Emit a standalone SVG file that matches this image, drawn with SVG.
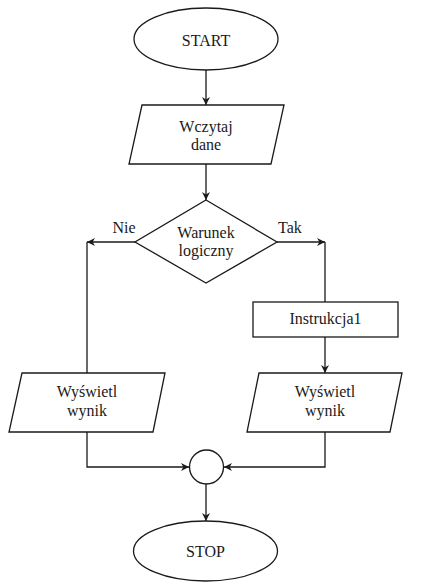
<svg xmlns="http://www.w3.org/2000/svg" width="426" height="586" viewBox="0 0 426 586" font-family="Liberation Serif, DejaVu Serif, serif">
<defs>
<style>
.s{fill:#fff;stroke:#1a1a1a;stroke-width:1.3}
.c{fill:none;stroke:#1a1a1a;stroke-width:1.3}
.t{font-family:'Liberation Serif','DejaVu Serif',serif;font-size:16px;fill:#1a1a1a;text-anchor:middle}
</style>
<marker id="ah" viewBox="0 0 10 10" refX="10" refY="5" markerWidth="8" markerHeight="8" markerUnits="userSpaceOnUse" orient="auto">
<path d="M0,0 L10,5 L0,10 L3,5 z" fill="#1a1a1a"/>
</marker>
</defs>
<rect width="426" height="586" fill="#fff"/>
<g id="connectors">
<path class="c" d="M206,70 V105" marker-end="url(#ah)"/>
<path class="c" d="M206,164 V200" marker-end="url(#ah)"/>
<path class="c" d="M135,242 H87" marker-end="url(#ah)"/>
<path class="c" d="M87,242 V373"/>
<path class="c" d="M277,242 H325" marker-end="url(#ah)"/>
<path class="c" d="M325,242 V302"/>
<path class="c" d="M325,337 V373" marker-end="url(#ah)"/>
<path class="c" d="M87,432 V467 H189" marker-end="url(#ah)"/>
<path class="c" d="M325,432 V467 H224" marker-end="url(#ah)"/>
<path class="c" d="M206,484 V521" marker-end="url(#ah)"/>
<text class="t" x="124" y="233">Nie</text>
<text class="t" x="290" y="233">Tak</text>
</g>
<g id="start">
<ellipse class="s" cx="206" cy="39" rx="72" ry="31"/>
<text class="t" x="206" y="46">START</text>
</g>
<g id="wczytaj">
<polygon class="s" points="142,105 284,105 271,164 129,164"/>
<text class="t" x="206" y="132">Wczytaj</text>
<text class="t" x="206" y="150">dane</text>
</g>
<g id="warunek">
<polygon class="s" points="206,200 277,242 206,283 135,242"/>
<text class="t" x="206" y="238">Warunek</text>
<text class="t" x="206" y="256">logiczny</text>
</g>
<g id="instrukcja">
<rect class="s" x="253" y="302" width="145" height="35"/>
<text class="t" x="325.5" y="324">Instrukcja1</text>
</g>
<g id="wyswietl-left">
<polygon class="s" points="22,373 165,373 153,432 9,432"/>
<text class="t" x="87" y="397">Wyświetl</text>
<text class="t" x="87" y="416">wynik</text>
</g>
<g id="wyswietl-right">
<polygon class="s" points="259,373 402,373 390,432 247,432"/>
<text class="t" x="325" y="397">Wyświetl</text>
<text class="t" x="325" y="416">wynik</text>
</g>
<g id="join">
<circle class="s" cx="206.5" cy="467" r="17"/>
</g>
<g id="stop">
<ellipse class="s" cx="205.5" cy="551" rx="72" ry="30"/>
<text class="t" x="205.5" y="557">STOP</text>
</g>
</svg>
